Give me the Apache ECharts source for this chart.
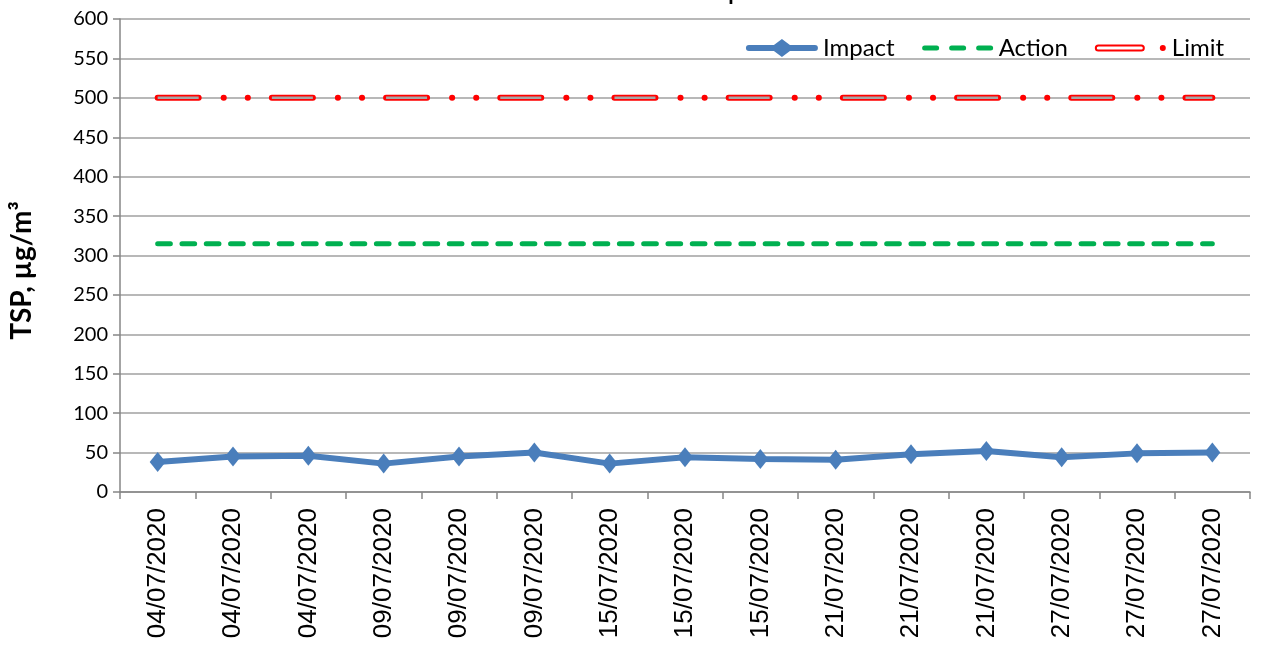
<!DOCTYPE html>
<html>
<head>
<meta charset="utf-8">
<script src="https://cdn.jsdelivr.net/npm/echarts@6/dist/echarts.min.js"></script>
<style>
    html, body { margin: 0; padding: 0; background: #fff; }
    #chart { width: 1265px; height: 648px; }
</style>
</head>
<body>
<div id="chart"></div>
<script>
// 采样日期（x 轴）
var dates = ['04/07/2020', '04/07/2020', '04/07/2020', '09/07/2020', '09/07/2020', '09/07/2020',
    '15/07/2020', '15/07/2020', '15/07/2020', '21/07/2020', '21/07/2020', '21/07/2020',
    '27/07/2020', '27/07/2020', '27/07/2020'];
// TSP 监测值
var impact = [38, 45, 46, 36, 45, 50, 36, 44, 42, 41, 48, 52, 44, 49, 50];
var actionLevel = [315, 315, 315, 315, 315, 315, 315, 315, 315, 315, 315, 315, 315, 315, 315];
var limitLevel = [500, 500, 500, 500, 500, 500, 500, 500, 500, 500, 500, 500, 500, 500, 500];

var myChart = echarts.init(document.getElementById('chart'));
var gridColor = '#a0a0a0';
var axisColor = '#868686';

// 图例图标（72 x 18），角上加极小的点撑开包围盒
var corners = 'M0,0 L0.01,0 L0,0.01 Z M72,18 L71.99,18 L72,17.99 Z ';
var impactIcon = 'path://M3,6 L28,6 L36,0 L44,6 L69,6 A3,3 0 0 1 69,12 L44,12 L36,18 L28,12 L3,12 A3,3 0 0 1 3,6 Z';
var actionIcon = 'path://' + corners +
    'M3,6.5 L15,6.5 A2.5,2.5 0 0 1 15,11.5 L3,11.5 A2.5,2.5 0 0 1 3,6.5 Z ' +
    'M30,6.5 L42,6.5 A2.5,2.5 0 0 1 42,11.5 L30,11.5 A2.5,2.5 0 0 1 30,6.5 Z ' +
    'M57,6.5 L69,6.5 A2.5,2.5 0 0 1 69,11.5 L57,11.5 A2.5,2.5 0 0 1 57,6.5 Z';
// 红色空心短划：外框顺时针，内框逆时针留白
var limitIcon = 'path://' + corners +
    'M3.5,5.5 L46.5,5.5 A3.5,3.5 0 0 1 46.5,12.5 L3.5,12.5 A3.5,3.5 0 0 1 3.5,5.5 Z ' +
    'M3.5,7.5 A1.5,1.5 0 0 0 3.5,10.5 L46.5,10.5 A1.5,1.5 0 0 0 46.5,7.5 Z ' +
    'M68,6 A3,3 0 1 1 68,12 A3,3 0 1 1 68,6 Z';

option = {
    backgroundColor: '#fff',
    animation: false,
    title: {
        text: 'AM1 - Tin Shui Wai Hospital',
        left: 'center',
        top: -23,
        textStyle: {
            fontFamily: 'Lato',
            fontWeight: 'bold',
            fontSize: 22,
            color: '#000'
        }
    },
    grid: {
        left: 118,
        right: 15,
        top: 19,
        bottom: 156
    },
    legend: {
        right: 36,
        top: 31,
        itemGap: 27,
        itemWidth: 72,
        itemHeight: 18,
        textStyle: {
            fontFamily: 'Lato',
            fontSize: 24,
            color: '#000'
        },
        data: [
            { name: 'Impact', icon: impactIcon, itemStyle: { color: '#4a7ebb', borderWidth: 0 } },
            { name: 'Action', icon: actionIcon, itemStyle: { color: '#00b050', borderWidth: 0 } },
            { name: 'Limit', icon: limitIcon, itemStyle: { color: '#ff0000', borderWidth: 0 } }
        ]
    },
    xAxis: {
        type: 'category',
        data: dates,
        boundaryGap: true,
        axisLine: { lineStyle: { color: axisColor, width: 1.5 } },
        axisTick: { show: true, length: 7, alignWithLabel: false, lineStyle: { color: axisColor, width: 1.5 } },
        axisLabel: {
            rotate: 90,
            interval: 0,
            margin: 16,
            fontFamily: 'Liberation Sans',
            fontSize: 26,
            color: '#000'
        }
    },
    yAxis: {
        type: 'value',
        min: 0,
        max: 600,
        interval: 50,
        name: 'TSP, µg/m³',
        nameLocation: 'middle',
        nameRotate: 90,
        nameGap: 84,
        nameTextStyle: {
            fontFamily: 'Lato',
            fontWeight: 'bold',
            fontSize: 28,
            color: '#000',
            padding: [0, 30, 0, 0]
        },
        axisLine: { show: true, lineStyle: { color: axisColor, width: 1.5 } },
        axisTick: { show: true, inside: false, length: 7, lineStyle: { color: axisColor, width: 1.5 } },
        axisLabel: {
            margin: 12,
            fontFamily: 'Lato',
            fontSize: 20,
            color: '#000'
        },
        splitLine: { lineStyle: { color: gridColor, width: 1.5 } }
    },
    series: [
        {
            name: 'Limit',
            type: 'line',
            data: limitLevel,
            symbol: 'none',
            z: 2,
            lineStyle: {
                color: '#ff0000',
                width: 6,
                cap: 'round',
                type: [41, 25, 0.1, 24, 0.1, 24]
            }
        },
        {
            name: 'LimitInner',
            type: 'line',
            data: limitLevel,
            symbol: 'none',
            silent: true,
            z: 3,
            lineStyle: {
                color: '#a6a6a6',
                width: 2.5,
                cap: 'butt',
                type: [41, 73.2]
            }
        },
        {
            name: 'Action',
            type: 'line',
            data: actionLevel,
            symbol: 'none',
            itemStyle: { color: '#00b050' },
            lineStyle: {
                color: '#00b050',
                width: 5,
                cap: 'round',
                type: [12.7, 11.6]
            }
        },
        {
            name: 'Impact',
            type: 'line',
            data: impact,
            symbol: 'diamond',
            symbolSize: [16, 20],
            z: 5,
            itemStyle: { color: '#4a7ebb' },
            lineStyle: { color: '#4a7ebb', width: 6 }
        }
    ]
};
myChart.setOption(option);
</script>
</body>
</html>
